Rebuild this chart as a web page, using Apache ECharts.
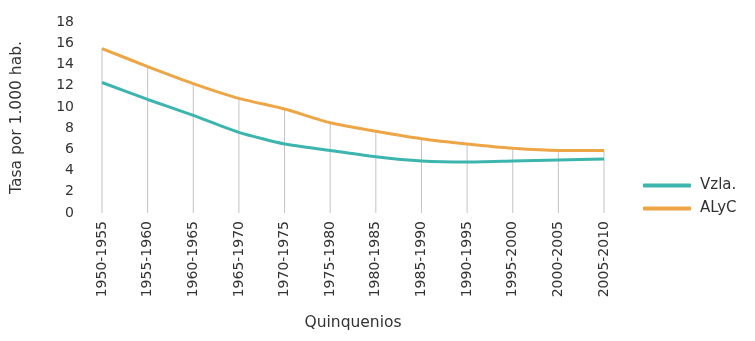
<!DOCTYPE html>
<html>
<head>
<meta charset="utf-8">
<script src="https://cdn.jsdelivr.net/npm/echarts@6/dist/echarts.min.js"></script>
<style>
  html, body { margin: 0; padding: 0; background: #fff; }
  #chart { width: 755px; height: 341px; }
</style>
</head>
<body>
<div id="chart"></div>
<script>
// quinquenios
const periods = ['1950-1955', '1955-1960', '1960-1965', '1965-1970', '1970-1975', '1975-1980',
  '1980-1985', '1985-1990', '1990-1995', '1995-2000', '2000-2005', '2005-2010'];
// tasa por 1.000 hab.
const vzla = [12.3, 10.7, 9.2, 7.6, 6.5, 5.9, 5.3, 4.9, 4.8, 4.9, 5.0, 5.1];
const alyc = [15.5, 13.8, 12.2, 10.8, 9.8, 8.5, 7.7, 7.0, 6.5, 6.1, 5.9, 5.9];

const font = 'DejaVu Sans';
const txt = '#333333';
const chart = echarts.init(document.getElementById('chart'));

chart.setOption({
  animation: false,
  textStyle: { fontFamily: font },
  grid: { left: 102, right: 151, top: 22, bottom: 128, outerBoundsMode: 'none' },
  legend: {
    orient: 'vertical',
    left: 638,
    top: 173,
    itemWidth: 48,
    itemHeight: 4,
    itemGap: 8,
    icon: 'roundRect',
    data: ['Vzla.', 'ALyC'],
    textStyle: { fontFamily: font, fontSize: 15, color: txt, padding: [0, 0, 0, 4] }
  },
  xAxis: {
    type: 'category',
    data: periods,
    boundaryGap: false,
    name: 'Quinquenios',
    nameLocation: 'middle',
    nameGap: 102,
    nameTextStyle: { fontSize: 15.5, color: txt },
    axisLine: { show: false },
    axisTick: { show: false },
    axisLabel: { rotate: 90, fontSize: 14, color: txt, margin: 8 }
  },
  yAxis: {
    type: 'value',
    min: 0,
    max: 18,
    interval: 2,
    name: 'Tasa por 1.000 hab.',
    nameLocation: 'middle',
    nameGap: 77,
    nameTextStyle: { fontSize: 15.5, color: txt },
    axisLine: { show: false },
    axisTick: { show: false },
    splitLine: { show: false },
    axisLabel: { fontSize: 14, color: txt, margin: 28 }
  },
  series: [
    {
      // drop lines from upper series to the axis
      name: 'drop',
      type: 'bar',
      data: alyc,
      barWidth: 1,
      silent: true,
      itemStyle: { color: '#c4c4c4' },
      z: 1
    },
    {
      name: 'Vzla.',
      type: 'line',
      data: vzla,
      smooth: 0.2,
      showSymbol: false,
      lineStyle: { color: '#3bb5ad', width: 3 },
      itemStyle: { color: '#3bb5ad' },
      z: 3
    },
    {
      name: 'ALyC',
      type: 'line',
      data: alyc,
      smooth: 0.2,
      showSymbol: false,
      lineStyle: { color: '#eea545', width: 3 },
      itemStyle: { color: '#eea545' },
      z: 3
    }
  ]
});
</script>
</body>
</html>
